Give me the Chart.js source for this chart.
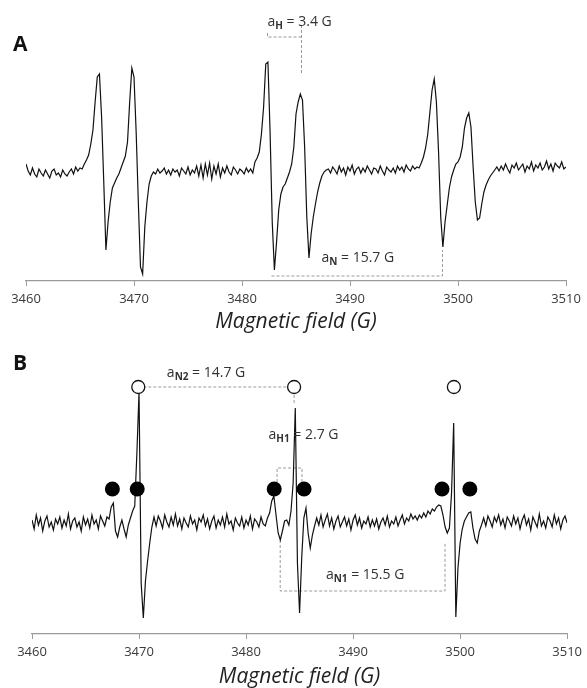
<!DOCTYPE html>
<html>
<head>
<meta charset="utf-8">
<script src="https://cdn.jsdelivr.net/npm/chart.js@4.4.1/dist/chart.umd.min.js"></script>
<style>
  body { margin: 0; background: #fff; }
  #wrap { position: relative; width: 587px; height: 688px; }
  canvas { position: absolute; left: 0; }
  #chartA { top: 0; }
  #chartB { top: 340px; }
</style>
</head>
<body>
<div id="wrap">
  <canvas id="chartA" width="587" height="340"></canvas>
  <canvas id="chartB" width="587" height="348"></canvas>
</div>
<script>
// field sweep, 0.2 G per point
const fieldStart = 3460;
const fieldStep = 0.2;
const fieldTicks = [3460, 3470, 3480, 3490, 3500, 3510];

// spectrum A (one row = 2 G)
const signalA = [
  8, 1, -3, 4, -2, -5, 3, -1, -4, 2,
  -2, -6, 1, 3, -3, -1, -5, 2, -2, -4,
  0, 3, -2, 5, 1, 4, 3, 8, 12, 17,
  28, 42, 70, 95, 98, 55, -10, -78, -50, -30,
  -16, -11, -6, -2, 4, 10, 16, 30, 70, 104,
  95, 40, -30, -95, -102, -55, -30, -12, -4, 0,
  -2, 3, -1, 1, 4, -2, 2, -3, 3, 0,
  2, -4, 4, 1, -2, 5, -3, 2, -1, 6,
  -4, 7, -6, 8, -3, 9, -7, 6, -2, 8,
  -5, 4, -1, 6, 0, -3, 5, 2, -2, 3,
  1, -2, 4, 0, 3, -1, 10, 14, 20, 38,
  65, 108, 110, 40, -50, -98, -70, -38, -22, -15,
  -12, -6, 0, 8, 25, 58, 70, 78, 72, 25,
  -45, -86, -62, -45, -32, -20, -11, -4, 0, 2,
  3, -1, 5, 2, -2, 6, 0, 4, -3, 5,
  1, 7, -2, 3, 5, -1, 4, 0, 6, 2,
  -2, 4, 3, -1, 6, 1, -3, 5, 2, 0,
  4, -1, 6, 2, 5, 0, 7, 3, 1, 6,
  3, 5, 4, 9, 15, 24, 38, 60, 82, 93,
  70, 20, -45, -75, -50, -33, -16, -5, 2, 8,
  10, 15, 25, 44, 54, 59, 45, 5, -30, -48,
  -46, -32, -20, -13, -8, -4, -1, 2, 5, 1,
  6, 2, 8, 3, -1, 7, 4, 9, 2, 5,
  8, 0, 6, 3, 10, 1, 7, 4, 9, 2,
  5, 11, 3, 8, 1, 9, 6, 4, 10, 3,
  5
];

// spectrum B (one row = 2 G)
const signalB = [
  3, -6, 8, -2, 5, -8, 2, 7, -4, 1,
  -7, 4, -1, 6, -5, 3, -3, 9, -6, 2,
  5, -4, 1, -8, 6, -2, 4, -5, 8, -1,
  3, -6, 7, 2, -3, 6, 4, 16, 20, -8,
  -14, -4, 3, -6, -14, -2, 5, 12, 17, 70,
  131, -60, -95, -58, -38, -20, -4, 6, -3, 7,
  2, -5, 8, 1, -4, 6, -2, 9, -3, 4,
  -6, 5, 0, -4, 7, -1, 3, -7, 5, 1,
  8, -3, 4, -6, 2, 7, -5, 3, -2, 6,
  -4, 9, -1, 2, -7, 5, 0, -3, 6, -5,
  3, -2, 7, -6, 4, 1, -4, 6, -1, -3,
  5, 10, 22, 27, 8, -10, -17, -8, 2, 3,
  -2, 12, 40, 115, -40, -90, -35, 5, 15, -10,
  -25, -12, -3, 5, -2, 8, -4, 3, 9, -3,
  5, -6, 2, 7, -4, 1, 6, -3, 4, -7,
  3, 8, -2, 5, -5, 2, -1, 6, -4, 3,
  -3, 4, -6, 1, 5, -2, 7, -4, 2, -1,
  6, -3, 3, 8, -1, 5, 2, 9, 4, 7,
  3, 8, 5, 10, 6, 12, 9, 14, 12, 16,
  18, 17, 8, -4, -10, -5, 30, 100, -94, -45,
  -20, -6, 2, 6, 10, 11, -5, -16, -20, -8,
  -2, 5, -3, 7, 2, -4, 6, 1, 8, -2,
  4, -5, 6, 2, -3, 7, -1, 5, -6, 3,
  8, -2, 4, -7, 6, 1, -4, 9, -3, 2,
  -5, 6, 2, -4, 8, -1, 5, -6, 3, 7,
  0
];

// line markers in B
const openLinesB = [3469.93, 3484.49, 3499.42];
const openLevelB = 136;
const filledLinesB = [3467.51, 3469.83, 3482.63, 3485.42, 3498.31, 3500.91];
const filledLevelB = 34;

// hyperfine brackets [field, level]
const aHBracketA = [[3482.36, 139], [3482.36, 135], [3485.51, 135]];
const aHMarkA = [[3485.51, 147], [3485.51, 99]];
const aNBracketA = [[3482.73, -104], [3498.56, -104], [3498.56, -78]];
const aN2LineB = [[3469.93, 136], [3484.49, 136]];
const aN2MarkB = [[3484.49, 128], [3484.49, 118]];
const aH1BracketB = [[3482.9, 36], [3482.9, 55], [3485.23, 55], [3485.23, 36]];
const aN1BracketB = [[3483.19, -17], [3483.19, -68], [3498.59, -68], [3498.59, -20]];

const labelsA = [
  { x: 3482.36, y: 150, sub: 'H', rest: ' = 3.4 G' },
  { x: 3487.36, y: -86, sub: 'N', rest: ' = 15.7 G' }
];
const labelsB = [
  { x: 3472.6, y: 150, sub: 'N2', rest: ' = 14.7 G' },
  { x: 3482.1, y: 88, sub: 'H1', rest: ' = 2.7 G' },
  { x: 3487.46, y: -52, sub: 'N1', rest: ' = 15.5 G' }
];

function toPoints(signal) {
  return signal.map(function (v, i) {
    return { x: fieldStart + i * fieldStep, y: v };
  });
}

function dashed(pairs) {
  return {
    data: pairs.map(function (p) { return { x: p[0], y: p[1] }; }),
    borderColor: '#9a9a9a',
    borderWidth: 1,
    borderDash: [3, 2],
    pointRadius: 0,
    order: 3
  };
}

const labelPlugin = {
  id: 'hfLabels',
  afterDraw(chart, args, opts) {
    const ctx = chart.ctx;
    const xs = chart.scales.x, ys = chart.scales.y;
    ctx.save();
    ctx.textBaseline = 'middle';
    ctx.fillStyle = '#111';
    ctx.font = 'bold 21px "Open Sans"';
    ctx.fillText(opts.letter, 13, opts.letterY);
    ctx.fillStyle = '#333';
    opts.items.forEach(function (item) {
      let px = xs.getPixelForValue(item.x);
      const py = ys.getPixelForValue(item.y);
      ctx.font = '14px "Open Sans"';
      ctx.fillText('a', px, py);
      px += ctx.measureText('a').width;
      ctx.font = 'bold 10px "Open Sans"';
      ctx.fillText(item.sub, px, py + 4);
      px += ctx.measureText(item.sub).width;
      ctx.font = '14px "Open Sans"';
      ctx.fillText(item.rest, px, py);
    });
    ctx.restore();
  }
};

function makeChart(id, datasets, cfg) {
  return new Chart(document.getElementById(id), {
    type: 'line',
    data: { datasets: datasets },
    options: {
      responsive: false,
      animation: false,
      devicePixelRatio: 1,
      layout: { padding: { left: cfg.left, right: cfg.right, top: 10, bottom: 0 } },
      plugins: {
        legend: { display: false },
        tooltip: { enabled: false },
        hfLabels: { letter: cfg.letter, letterY: cfg.letterY, items: cfg.labels }
      },
      scales: {
        x: {
          type: 'linear',
          min: 3460,
          max: 3510,
          afterBuildTicks: function (s) { s.ticks = fieldTicks.map(function (v) { return { value: v }; }); },
          afterFit: function (s) { s.height = cfg.axisHeight; },
          grid: { drawOnChartArea: false, drawTicks: true, tickLength: 5, color: '#9a9a9a' },
          border: { color: '#9a9a9a', width: 1.2 },
          ticks: {
            font: { family: '"Open Sans"', size: 13 },
            color: '#3a3a3a',
            padding: 5,
            maxRotation: 0,
            callback: function (v) { return String(v); }
          },
          title: {
            display: true,
            text: 'Magnetic field (G)',
            font: { family: '"Open Sans"', size: 21, style: 'italic', lineHeight: 1 },
            color: '#222',
            padding: { top: 0, bottom: cfg.titlePad }
          }
        },
        y: { display: false, min: cfg.ymin, max: cfg.ymax }
      }
    },
    plugins: [labelPlugin]
  });
}

const lineStyle = { borderColor: '#111', borderWidth: 1.2, pointRadius: 0, tension: 0, order: 2 };

makeChart('chartA', [
  Object.assign({ data: toPoints(signalA) }, lineStyle),
  dashed(aHBracketA),
  dashed(aHMarkA),
  dashed(aNBracketA)
], { left: 26, right: 21, axisHeight: 59, titlePad: 7, ymin: -109, ymax: 162, letter: 'A', letterY: 45, labels: labelsA });

makeChart('chartB', [
  Object.assign({ data: toPoints(signalB) }, lineStyle),
  dashed(aN2LineB),
  dashed(aN2MarkB),
  dashed(aH1BracketB),
  dashed(aN1BracketB),
  {
    data: openLinesB.map(function (f) { return { x: f, y: openLevelB }; }),
    showLine: false,
    pointRadius: 6.5,
    pointBorderWidth: 1.3,
    pointBackgroundColor: '#fff',
    pointBorderColor: '#111',
    order: 0
  },
  {
    data: filledLinesB.map(function (f) { return { x: f, y: filledLevelB }; }),
    showLine: false,
    pointRadius: 7.5,
    pointBorderWidth: 0,
    pointBackgroundColor: '#000',
    pointBorderColor: '#000',
    order: 0
  }
], { left: 32, right: 16, axisHeight: 54, titlePad: 0, ymin: -111, ymax: 173, letter: 'B', letterY: 24, labels: labelsB });
</script>
</body>
</html>
